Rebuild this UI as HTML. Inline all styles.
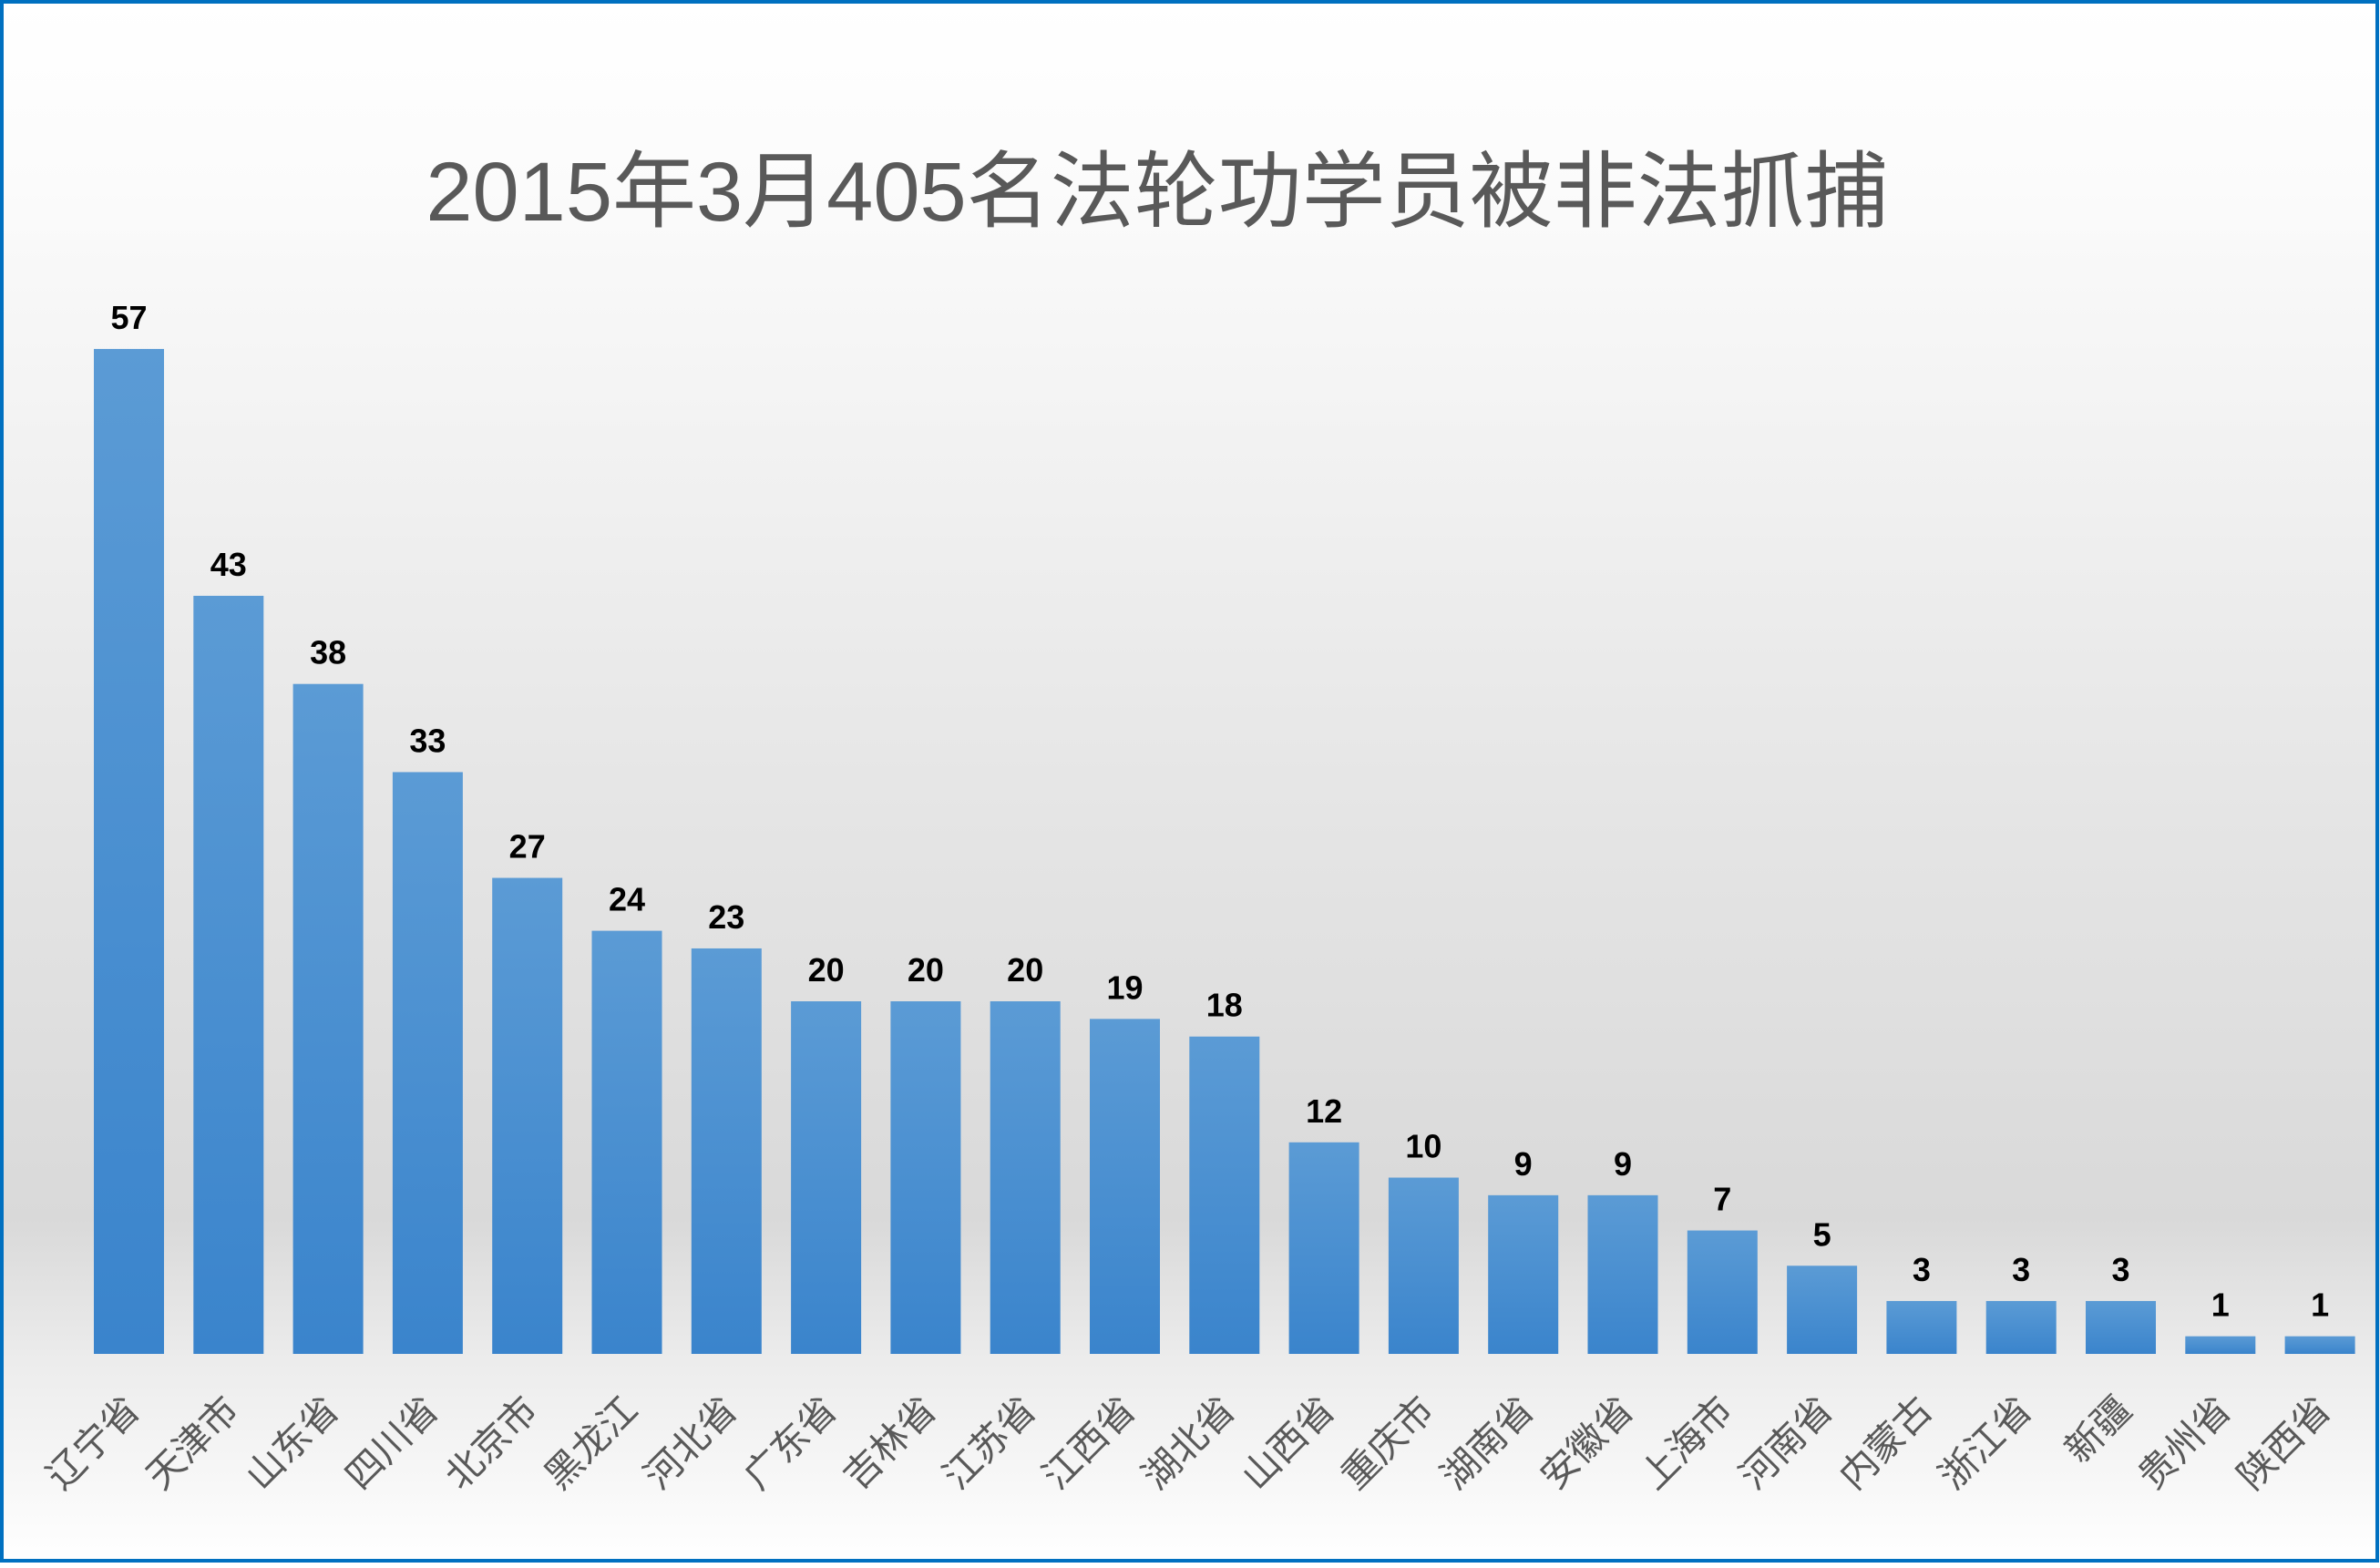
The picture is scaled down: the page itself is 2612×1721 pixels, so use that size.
<!DOCTYPE html>
<html><head><meta charset="utf-8"><style>
html,body{margin:0;padding:0;}
body{width:2612px;height:1716px;overflow:hidden;}
</style></head><body>
<svg width="2612" height="1716" xmlns="http://www.w3.org/2000/svg">
<defs>
<linearGradient id="bg" x1="0" y1="0" x2="0" y2="1716" gradientUnits="userSpaceOnUse">
<stop offset="0" stop-color="#ffffff"/>
<stop offset="0.12" stop-color="#fbfbfb"/>
<stop offset="0.5" stop-color="#e6e6e6"/>
<stop offset="0.78" stop-color="#d9d9d9"/>
<stop offset="0.87" stop-color="#ececec"/>
<stop offset="1" stop-color="#ffffff"/>
</linearGradient>
<linearGradient id="bar" x1="0" y1="0" x2="0" y2="1">
<stop offset="0" stop-color="#5b9bd5"/>
<stop offset="1" stop-color="#3a84cc"/>
</linearGradient>
</defs>
<rect x="0" y="0" width="2612" height="1716" fill="url(#bg)"/>
<rect x="2" y="2" width="2607" height="1711" fill="none" stroke="#0070c0" stroke-width="4"/>
<text x="1270" y="242" text-anchor="middle" font-family="Liberation Sans, Noto Sans CJK SC, sans-serif" font-size="92" fill="#595959">2015年3月405名法轮功学员被非法抓捕</text>
<g id="g"></g>
</svg>
<script>
var d=[["辽宁省",57],["天津市",43],["山东省",38],["四川省",33],["北京市",27],["黑龙江",24],["河北省",23],["广东省",20],["吉林省",20],["江苏省",20],["江西省",19],["湖北省",18],["山西省",12],["重庆市",10],["湖南省",9],["安徽省",9],["上海市",7],["河南省",5],["内蒙古",3],["浙江省",3],["新疆",3],["贵州省",1],["陕西省",1]];
var s="";
d.forEach(function(e,i){
var x=103+i*109.3,h=e[1]*19.35,y=1486-h,cx=x+38.5;
s+='<rect x="'+x+'" y="'+y+'" width="77" height="'+h+'" fill="url(#bar)"/>';
s+='<text x="'+cx+'" y="'+(y-22)+'" text-anchor="middle" font-family="Liberation Sans, sans-serif" font-weight="bold" font-size="36" fill="#000">'+e[1]+'</text>';
var tx=cx+14,ty=1550;
s+='<text x="'+tx+'" y="'+ty+'" text-anchor="end" transform="rotate(-45 '+tx+' '+ty+')" font-family="Liberation Sans, Noto Sans CJK SC, sans-serif" font-size="41" fill="#595959">'+e[0]+'</text>';
});
document.getElementById("g").innerHTML=s;
</script>
</body></html>
